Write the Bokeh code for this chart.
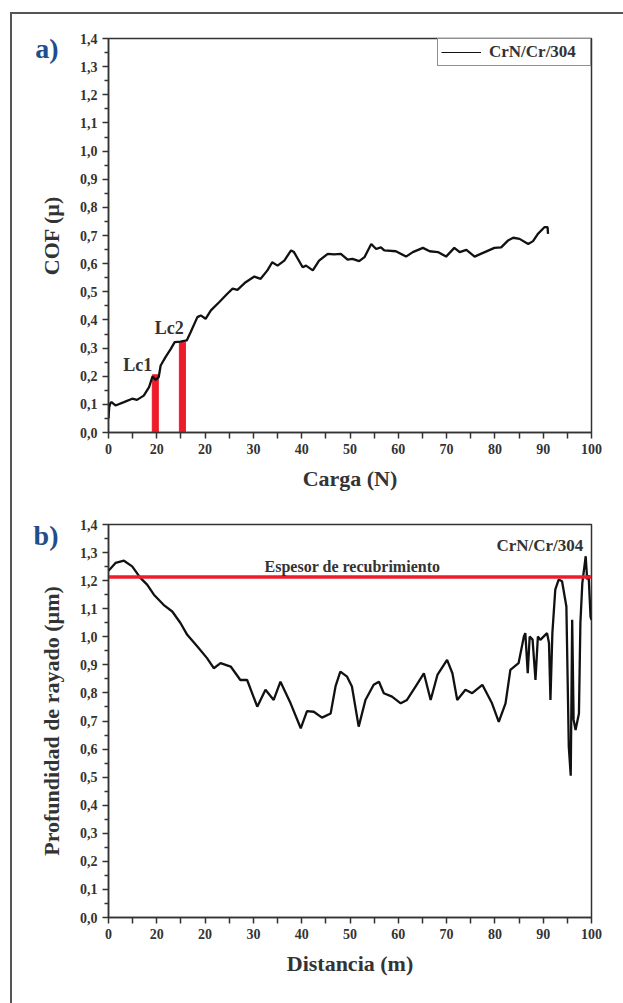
from bokeh.plotting import figure
from bokeh.layouts import column
from bokeh.models import FixedTicker, Label, Legend, LegendItem, Range1d, LinearAxis
from bokeh.embed import file_html
from bokeh.resources import INLINE

# ---------------- data: panel a (COF vs Carga) ----------------
carga = [0.0, 0.15, 0.4, 0.62, 1.45, 3.2, 4.9, 5.9, 7.3, 8.4, 9.1, 9.75,
         10.4, 10.8, 11.8, 12.9, 13.7, 14.9, 16.2, 17.0, 18.4, 19.1, 20.1,
         21.2, 22.9, 24.6, 25.7, 26.7, 28.4, 30.2, 31.5, 32.9, 33.9, 35.0,
         36.4, 37.8, 38.4, 40.2, 40.9, 42.3, 43.6, 45.4, 46.7, 48.1, 49.5,
         50.5, 51.9, 53.0, 54.4, 55.4, 56.4, 57.1, 59.5, 61.6, 63.0, 65.1,
         66.5, 68.2, 69.9, 71.6, 72.7, 74.1, 75.8, 77.9, 79.9, 81.3, 82.7,
         83.8, 85.1, 86.9, 87.9, 88.9, 90.3, 90.9, 91.0]
cof = [0.05, 0.09, 0.105, 0.108, 0.096, 0.108, 0.12, 0.116, 0.131, 0.161,
       0.199, 0.187, 0.197, 0.238, 0.268, 0.297, 0.321, 0.323, 0.327, 0.356,
       0.41, 0.416, 0.404, 0.434, 0.463, 0.493, 0.511, 0.507, 0.534, 0.554,
       0.546, 0.576, 0.605, 0.593, 0.611, 0.647, 0.641, 0.587, 0.593, 0.576,
       0.611, 0.635, 0.633, 0.635, 0.614, 0.617, 0.609, 0.623, 0.670, 0.652,
       0.658, 0.647, 0.644, 0.625, 0.641, 0.656, 0.644, 0.641, 0.625, 0.656,
       0.641, 0.649, 0.625, 0.641, 0.656, 0.658, 0.682, 0.692, 0.688, 0.670,
       0.680, 0.706, 0.730, 0.730, 0.706]
lc_x = [9.69, 15.3]
lc_top = [0.205, 0.321]
lc_labels = ["Lc1", "Lc2"]
lc_label_x = [9.07, 15.56]
lc_label_y = [0.24, 0.37]
serie_nombre = "CrN/Cr/304"

# ---------------- data: panel b (profundidad vs distancia) ----------------
distancia = [0.0, 1.45, 3.2, 4.9, 6.6, 8.0, 9.4, 11.4, 13.2, 14.9, 16.3, 18.4,
             20.4, 21.8, 23.2, 25.3, 27.3, 28.7, 30.8, 32.5, 34.2, 35.6, 37.7,
             39.8, 41.1, 42.5, 44.2, 46.0, 47.0, 48.0, 49.4, 50.4, 51.8, 53.2,
             54.9, 56.0, 57.0, 58.7, 60.5, 61.8, 63.6, 65.3, 66.7, 68.1, 70.1,
             71.2, 72.2, 73.9, 75.3, 77.4, 79.4, 80.8, 82.2, 83.2, 84.9, 86.0,
             86.3, 86.8, 87.2, 87.8, 88.4, 88.9, 89.4, 90.8, 91.2, 91.5, 91.9,
             92.5, 93.2, 93.9, 94.8, 95.3, 95.7, 96.0, 96.3, 96.7, 97.4, 97.7,
             98.1, 98.8, 99.1, 99.4, 99.8, 100.0]
profundidad = [1.235, 1.263, 1.271, 1.251, 1.21, 1.186, 1.15, 1.114, 1.09,
               1.049, 1.007, 0.965, 0.924, 0.888, 0.906, 0.894, 0.846, 0.846,
               0.751, 0.811, 0.775, 0.840, 0.763, 0.674, 0.735, 0.733, 0.712,
               0.727, 0.823, 0.876, 0.858, 0.823, 0.680, 0.775, 0.829, 0.840,
               0.799, 0.787, 0.763, 0.775, 0.823, 0.870, 0.775, 0.864, 0.918,
               0.870, 0.775, 0.811, 0.799, 0.829, 0.763, 0.697, 0.763, 0.882,
               0.906, 1.001, 1.013, 0.870, 1.001, 0.990, 0.846, 1.001, 0.989,
               1.013, 0.978, 0.775, 1.013, 1.168, 1.204, 1.198, 1.108, 0.608,
               0.505, 1.061, 0.704, 0.668, 0.727, 1.049, 1.191, 1.287, 1.204,
               1.220, 1.072, 1.060]
espesor = 1.213
espesor_texto = "Espesor de recubrimiento"

# ---------------- ticks ----------------
x_ticks = [0, 10, 20, 30, 40, 50, 60, 70, 80, 90, 100]
x_tick_labels = ["0", "20", "20", "30", "40", "50", "60", "70", "80", "90", "100"]
y_ticks = [0.0, 0.1, 0.2, 0.3, 0.4, 0.5, 0.6, 0.7, 0.8, 0.9, 1.0, 1.1, 1.2, 1.3, 1.4]
y_tick_labels = ["0,0", "0,1", "0,2", "0,3", "0,4", "0,5", "0,6", "0,7",
                 "0,8", "0,9", "1,0", "1,1", "1,2", "1,3", "1,4"]
panel_tags = ["a)", "b)"]

FONT = "Liberation Serif"
DARK = "#333333"
RED = "#ec1c2b"
BLUE = "#1f4e8c"


def make_fig(height, bottom, xlabel, ylabel, tag, tag_y):
    p = figure(width=611, height=height, output_backend="svg", toolbar_location=None,
               x_range=Range1d(0, 100), y_range=Range1d(0, 1.4),
               min_border_left=96, min_border_right=32, min_border_top=24,
               min_border_bottom=bottom, background_fill_color="white",
               border_fill_color="white")
    p.xgrid.visible = False
    p.ygrid.visible = False
    p.outline_line_color = DARK
    p.outline_line_width = 1.5
    p.outline_line_alpha = 1
    minor_x = [t + 5 for t in x_ticks[:-1]]
    minor_y = [round(t + 0.05, 2) for t in y_ticks[:-1]]
    xa = p.xaxis[0]
    ya = p.yaxis[0]
    xa.ticker = FixedTicker(ticks=x_ticks, minor_ticks=minor_x)
    ya.ticker = FixedTicker(ticks=y_ticks, minor_ticks=minor_y)
    xa.major_label_overrides = dict(zip(x_ticks, x_tick_labels))
    ya.major_label_overrides = dict(zip(y_ticks, y_tick_labels))
    for ax in (xa, ya):
        ax.axis_line_color = DARK
        ax.axis_line_width = 1.5
        ax.major_tick_line_color = DARK
        ax.minor_tick_line_color = DARK
        ax.major_tick_line_width = 1.5
        ax.minor_tick_line_width = 1.5
        ax.major_tick_in = 0
        ax.minor_tick_in = 0
        ax.major_tick_out = 6
        ax.major_label_text_font = FONT
        ax.major_label_text_font_style = "bold"
        ax.major_label_text_font_size = "14px"
        ax.major_label_text_color = DARK
        ax.major_label_standoff = 5
        ax.axis_label_text_font = FONT
        ax.axis_label_text_font_style = "bold"
        ax.axis_label_text_font_size = "22px"
        ax.axis_label_text_color = DARK
    xa.minor_tick_out = 6
    ya.minor_tick_out = 4
    xa.axis_label = xlabel
    ya.axis_label = ylabel
    xa.axis_label_standoff = 9
    ya.axis_label_standoff = 13
    # panel tag ("a)" / "b)") drawn as a lone horizontal label on an extra left axis
    tag_axis = LinearAxis(ticker=FixedTicker(ticks=[tag_y], minor_ticks=[]),
                          major_label_overrides={tag_y: tag},
                          axis_line_color=None, major_tick_line_color=None,
                          minor_tick_line_color=None, major_tick_out=0,
                          major_tick_in=0, minor_tick_out=0, minor_tick_in=0,
                          major_label_text_font=FONT,
                          major_label_text_font_style="bold",
                          major_label_text_font_size="28px",
                          major_label_text_color=BLUE,
                          major_label_standoff=-23)
    p.add_layout(tag_axis, "left")
    return p


# ---------------- panel a ----------------
pa = make_fig(486, 68, "Carga (N)", "COF (\u00b5)", panel_tags[0], 1.363)
pa.vbar(x=lc_x, top=lc_top, bottom=0, width=1.25, fill_color=RED, line_color=RED)
pa.line(carga, cof, line_color="#111111", line_width=2.3)
# single-point renderer: draws nothing in the frame, gives the thin legend line
legend_line = pa.line(carga[:1], cof[:1], line_color="#111111", line_width=1.2)
for lx, ly, lt in zip(lc_label_x, lc_label_y, lc_labels):
    pa.add_layout(Label(x=lx, y=ly, text=lt, text_align="right",
                        text_baseline="alphabetic", text_font=FONT,
                        text_font_style="bold", text_font_size="18px",
                        text_color=DARK))
legend = Legend(items=[LegendItem(label=serie_nombre, renderers=[legend_line])],
                location="top_right", margin=0, padding=3, spacing=0,
                glyph_width=40, glyph_height=12, label_height=12,
                label_width=98, label_standoff=8,
                border_line_color="#222222", border_line_width=1,
                label_text_font=FONT, label_text_font_style="bold",
                label_text_font_size="17px", label_text_color=DARK,
                background_fill_color="white", background_fill_alpha=1)
pa.add_layout(legend)

# ---------------- panel b ----------------
pb = make_fig(503, 86, "Distancia (m)", "Profundidad de rayado (\u00b5m)",
              panel_tags[1], 1.361)
pb.line(distancia, profundidad, line_color="#111111", line_width=2.3)
pb.line([0, 100], [espesor, espesor], line_color=RED, line_width=3.5)
pb.add_layout(Label(x=50.5, y=1.25, text=espesor_texto, text_align="center",
                    text_baseline="alphabetic", text_font=FONT,
                    text_font_style="bold", text_font_size="16px",
                    text_color=DARK))
pb.add_layout(Label(x=98.3, y=1.325, text=serie_nombre, text_align="right",
                    text_baseline="alphabetic", text_font=FONT,
                    text_font_style="bold", text_font_size="17px",
                    text_color=DARK))

layout = column(pa, pb, spacing=0,
                styles={"margin-left": "10px", "margin-top": "12px",
                        "border-left": "2px solid #555555",
                        "border-top": "2px solid #555555"})

open("out.html", "w").write(file_html(layout, INLINE))
